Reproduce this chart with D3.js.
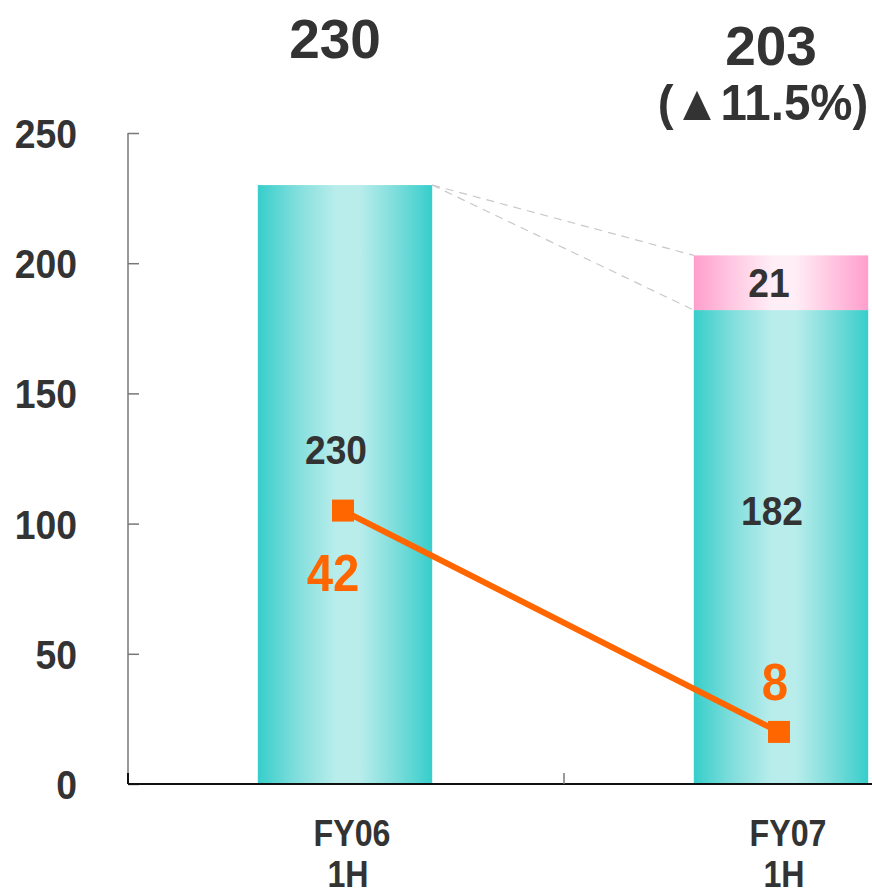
<!DOCTYPE html>
<html><head><meta charset="utf-8">
<script src="https://cdn.jsdelivr.net/npm/d3@7"></script>
<style>body{margin:0;background:#fff}svg{display:block}text{font-family:"Liberation Sans",Arial,sans-serif;font-weight:bold}</style>
</head><body>
<svg id="c" width="872" height="895"></svg>
<script>
const categories = ["FY06\n1H", "FY07\n1H"];
const baseValues = [230, 182];
const addedValues = [0, 21];
const totalLabels = ["230", "203"];
const changeLabels = ["", "(▲11.5%)"];
const lineValues = [42, 8];
const yTicks = [0, 50, 100, 150, 200, 250];

const svg = d3.select("#c");
const defs = svg.append("defs");
function grad(id, edge, mid1, center) {
  const g = defs.append("linearGradient").attr("id", id).attr("x1", "0").attr("x2", "1").attr("y1", "0").attr("y2", "0");
  [[0, edge], [0.22, mid1], [0.45, center], [0.58, center], [0.78, mid1], [1, edge]].forEach(([o, c]) =>
    g.append("stop").attr("offset", o).attr("stop-color", c));
}
grad("teal", "#36CECB", "#80DEDC", "#B9EDEC");
grad("pink", "#FF9ECC", "#FFC8E2", "#FFEEF6");

const x = d3.scaleBand().domain(categories).range([127, 999]).paddingInner(0.6).paddingOuter(0.3);
const y = d3.scaleLinear().domain([0, 250]).range([784, 133]);
const y2 = d3.scaleLinear().domain([0, 100]).range([784, 133]);
const cx = c => x(c) + x.bandwidth() / 2;

function txt(g, px, py, s, size, sx, fill, anchor) {
  return g.append("text").attr("transform", `translate(${px},${py}) scale(${sx},1)`)
    .attr("text-anchor", anchor || "middle").attr("font-size", size).attr("fill", fill).text(s);
}

// y axis
const yAxis = svg.append("g").attr("transform", "translate(128,0)")
  .call(d3.axisRight(y).tickValues(yTicks).tickSize(11).tickFormat(""));
yAxis.select(".domain").attr("stroke", "#777").attr("stroke-width", 1.5).attr("d", `M0,${y(250)}V${y(0)}`);
yAxis.selectAll(".tick line").attr("stroke", "#777").attr("stroke-width", 1.5);
const yl = svg.append("g");
yTicks.forEach(d => txt(yl, 77, y(d) + 15, d, 41, 0.91, "#333", "end"));

// bars
svg.append("g").selectAll("rect").data(categories).join("rect")
  .attr("x", d => x(d)).attr("width", x.bandwidth())
  .attr("y", (d, i) => y(baseValues[i])).attr("height", (d, i) => y(0) - y(baseValues[i]))
  .attr("fill", "url(#teal)");
svg.append("g").selectAll("rect").data(categories.filter((d, i) => addedValues[i] > 0)).join("rect")
  .attr("x", d => x(d)).attr("width", x.bandwidth())
  .attr("y", d => { const i = categories.indexOf(d); return y(baseValues[i] + addedValues[i]); })
  .attr("height", d => { const i = categories.indexOf(d); return y(baseValues[i]) - y(baseValues[i] + addedValues[i]); })
  .attr("fill", "url(#pink)");

// dashed connector lines
const x0r = x(categories[0]) + x.bandwidth(), x1l = x(categories[1]);
[baseValues[1] + addedValues[1], baseValues[1]].forEach(v => {
  svg.append("line").attr("x1", x0r).attr("y1", y(baseValues[0])).attr("x2", x1l).attr("y2", y(v))
    .attr("stroke", "#c8c8c8").attr("stroke-width", 1.2).attr("stroke-dasharray", "8,6");
});

// x axis
svg.append("line").attr("x1", 128).attr("x2", 872).attr("y1", y(0)).attr("y2", y(0)).attr("stroke", "#111").attr("stroke-width", 2);
svg.append("line").attr("x1", x.step() + 128).attr("x2", x.step() + 128).attr("y1", y(0) - 11).attr("y2", y(0)).attr("stroke", "#777").attr("stroke-width", 1.5);
svg.append("line").attr("x1", 128).attr("x2", 128).attr("y1", y(0) - 11).attr("y2", y(0)).attr("stroke", "#111").attr("stroke-width", 2);
const xl = svg.append("g");
const xOff = [7, 3];
const xLabelY = [846, 887];
categories.forEach(c => {
  c.split("\n").forEach((t, j) => txt(xl, cx(c) + xOff[j], xLabelY[j], t, 37, 0.87, "#333"));
});

// in-bar labels
const il = svg.append("g");
const baseLabelY = [464, 525];
categories.forEach((c, i) => {
  txt(il, cx(c) - 9, baseLabelY[i], baseValues[i], 40, 0.93, "#333");
  if (addedValues[i] > 0) txt(il, cx(c) - 12, 297, addedValues[i], 40, 0.93, "#333");
});

// top labels
const tl = svg.append("g");
const topY = [58, 65];
categories.forEach((c, i) => {
  txt(tl, cx(c) - 10, topY[i], totalLabels[i], 55, 1.0, "#333");
  if (changeLabels[i]) txt(tl, cx(c) - 18, 120, changeLabels[i], 50, 0.95, "#333");
});

// line series
const line = d3.line().x((d, i) => cx(categories[i]) - 2).y(d => y2(d));
svg.append("path").datum(lineValues).attr("d", line).attr("fill", "none").attr("stroke", "#FF6600").attr("stroke-width", 6);
svg.append("g").selectAll("rect").data(lineValues).join("rect")
  .attr("x", (d, i) => cx(categories[i]) - 2 - 11).attr("y", d => y2(d) - 11).attr("width", 22).attr("height", 22).attr("fill", "#FF6600");
const ll = svg.append("g");
const lblOff = [80, -32];
lineValues.forEach((d, i) => txt(ll, cx(categories[i]) - (i === 0 ? 12 : 6), y2(d) + lblOff[i], d, 52, 0.91, "#FF6600"));
</script>
</body></html>
